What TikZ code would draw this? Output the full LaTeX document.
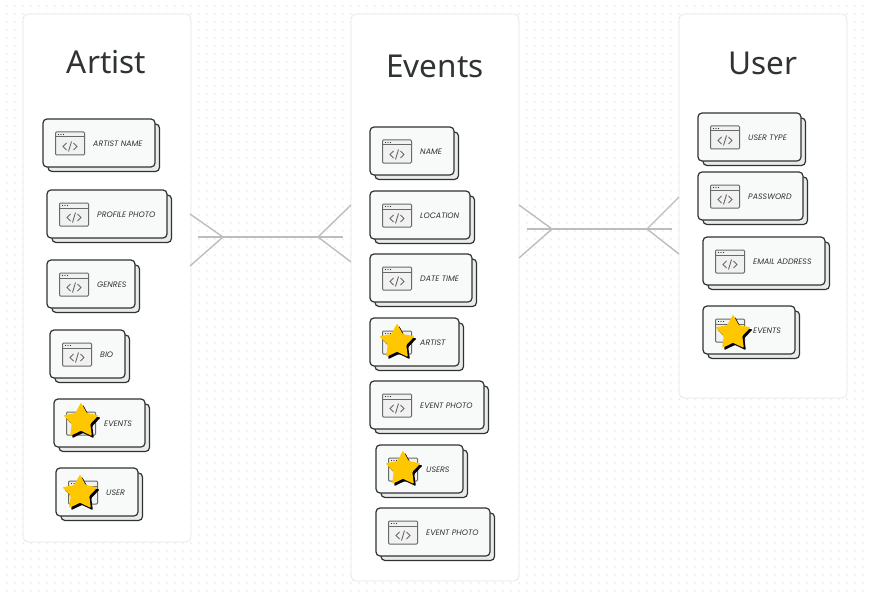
\documentclass[tikz,border=0pt]{standalone}
\usepackage{fontspec}
\setmainfont{Poppins}
\newfontfamily\titlefont{Noto Sans}
\usetikzlibrary{shapes.geometric}

\definecolor{inkdark}{HTML}{2F3332}
\definecolor{inkgray}{HTML}{666A69}
\definecolor{cardfront}{HTML}{F8FAF9}
\definecolor{cardback}{HTML}{E9EBEA}
\definecolor{winfill}{HTML}{F0F1F0}
\definecolor{panelline}{HTML}{E6E6E6}
\definecolor{linkgray}{HTML}{BDBDBD}
\definecolor{griddot}{HTML}{F2F2F2}
\definecolor{staryellow}{HTML}{FFC700}

\tikzset{
  panel/.style={draw=panelline, fill=white, line width=0.8pt, rounded corners=5pt},
  paneltitle/.style={text=inkdark, font=\titlefont\fontsize{31.5}{36}\selectfont},
  cardtop/.style={draw=inkdark, fill=cardfront, line width=1.2pt, rounded corners=4pt, outer sep=0pt},
  cardunder/.style={draw=inkdark, fill=cardback, line width=1.2pt, rounded corners=4pt},
  winbox/.style={draw=inkgray, fill=winfill, line width=1pt, rounded corners=1pt},
  fieldlabel/.style={anchor=west, text=inkdark, inner sep=0pt, font=\itshape\fontsize{7.9}{10}\selectfont},
  link/.style={draw=linkgray, line width=1.4pt},
  starshape/.style={star, star points=5, star point ratio=1.9, minimum size=37pt, inner sep=0pt, line join=round, rounded corners=1pt},
}

% field card: name, left, top, right, text
\newcommand{\fieldcard}[5]{
  \draw[cardunder] (#2+5,#3+5) rectangle (#4+4.5,#3+52.5);
  \node[cardtop, minimum width=#4pt-#2pt, minimum height=48pt, inner sep=0pt, anchor=north west] (#1) at (#2,#3) {};
  \draw[winbox] (#2+12.5,#3+13) rectangle (#2+41.5,#3+36);
  \draw[inkgray, line width=1pt] (#2+12.5,#3+18) -- (#2+41.5,#3+18);
  \foreach \dotpos in {15.5,18,20.5}
    \fill[inkdark] (#2+\dotpos,#3+15.5) circle (0.6pt);
  \draw[inkgray, line width=0.9pt] (#2+23.5,#3+24) -- (#2+20,#3+27.5) -- (#2+23.5,#3+31)
    (#2+30.5,#3+24) -- (#2+34,#3+27.5) -- (#2+30.5,#3+31)
    (#2+28.5,#3+22.5) -- (#2+25.5,#3+32.5);
  \node[fieldlabel] (#1-text) at (#2+50,#3+24.7) {#5};
}
% star on a card: name, centre x, centre y
\newcommand{\cardstar}[3]{
  \node[starshape, fill=black] (#1-shade) at (#2+2,#3+2.2) {};
  \node[starshape, fill=staryellow] (#1) at (#2,#3) {};
}

\begin{document}
\begin{tikzpicture}[x=1pt, y=-1pt]
    \useasboundingbox (0,0) rectangle (870,599);

    % dotted ground
    \foreach \rowy in {6.5,14.5,...,598}
        \draw[griddot, line width=2pt, dash pattern=on 2pt off 6pt] (5.5,\rowy) -- (870,\rowy);

    % panels
    \draw[panel] (23,14) rectangle (191,542);
    \draw[panel] (351,14) rectangle (519,581);
    \draw[panel] (679,14) rectangle (847,398);
    \node[paneltitle] (artisttitle) at (106.5,62) {Artist};
    \node[paneltitle] (eventstitle) at (435,66) {Events};
    \node[paneltitle] (usertitle) at (763,63) {User};

    % artist fields
    \fieldcard{artistname}{43}{119}{155}{ARTIST NAME}
    \fieldcard{artistphoto}{47}{190}{167}{PROFILE PHOTO}
    \fieldcard{artistgenres}{47}{260}{135}{GENRES}
    \fieldcard{artistbio}{50}{330}{125}{BIO}
    \fieldcard{artistevents}{54}{399}{145}{EVENTS}
    \fieldcard{artistuser}{56}{468}{138}{USER}
    \cardstar{staraevents}{81}{421}
    \cardstar{starauser}{80}{493}

    % event fields
    \fieldcard{eventname}{370}{127}{454}{NAME}
    \fieldcard{eventplace}{370}{191}{470}{LOCATION}
    \fieldcard{eventdate}{370}{254}{472}{DATE TIME}
    \fieldcard{eventartist}{370}{318}{459}{ARTIST}
    \fieldcard{eventphoto}{370}{381}{484}{EVENT PHOTO}
    \fieldcard{eventusers}{376}{445}{463}{USERS}
    \fieldcard{eventphotob}{376}{508}{490}{EVENT PHOTO}
    \cardstar{stareartist}{397}{342}
    \cardstar{stareusers}{403}{469}

    % user fields
    \fieldcard{usertype}{698}{113}{801}{USER TYPE}
    \fieldcard{userpass}{698}{172}{803}{PASSWORD}
    \fieldcard{usermail}{703}{237}{825}{EMAIL ADDRESS}
    \fieldcard{userevents}{703}{306}{795}{EVENTS}
    \cardstar{staruevents}{733}{333}

    % artist to events
    \coordinate (aeleft) at (198,237);
    \coordinate (aeright) at (343,237);
    \coordinate (aeforka) at (223,237);
    \coordinate (aeforkb) at (318,237);
    \coordinate (aetopa) at (190,214);
    \coordinate (aelowa) at (190,266);
    \coordinate (aetopb) at (351,205);
    \coordinate (aelowb) at (351,262);
    \draw[link] (aeleft) -- (aeright);
    \draw[link] (aetopa) -- (aeforka) -- (aelowa);
    \draw[link] (aetopb) -- (aeforkb) -- (aelowb);

    % events to user
    \coordinate (euleft) at (527,229);
    \coordinate (euright) at (672,229);
    \coordinate (euforka) at (552,229);
    \coordinate (euforkb) at (647,229);
    \coordinate (eutopa) at (519,205);
    \coordinate (eulowa) at (519,258);
    \coordinate (eutopb) at (679,197);
    \coordinate (eulowb) at (679,254);
    \draw[link] (euleft) -- (euright);
    \draw[link] (eutopa) -- (euforka) -- (eulowa);
    \draw[link] (eutopb) -- (euforkb) -- (eulowb);

\end{tikzpicture}
\end{document}
